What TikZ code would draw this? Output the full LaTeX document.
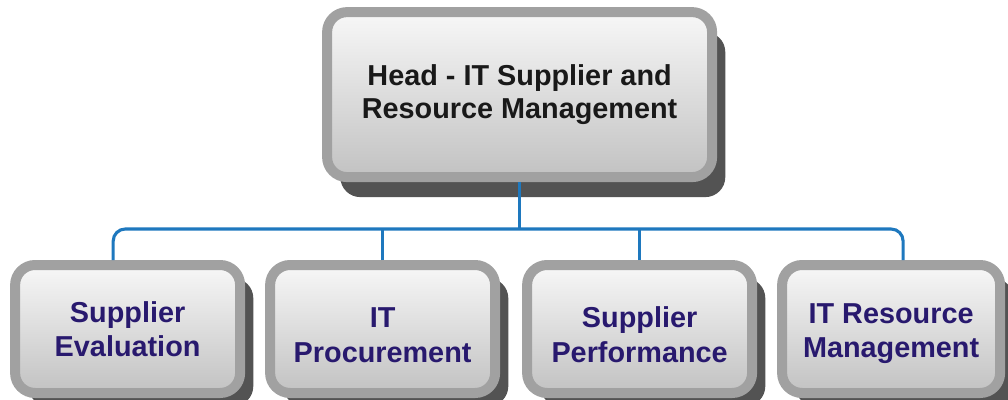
\documentclass[tikz,border=0pt]{standalone}
\usepackage{fontspec}
\setsansfont{Liberation Sans}
\usetikzlibrary{positioning,shadows}
\definecolor{linkblue}{RGB}{30,120,190}
\definecolor{navy}{RGB}{40,25,110}
\tikzset{%
  % Specifications for style of nodes:
  base/.style = {rectangle, rounded corners=0.5cm, draw=black!37,
    line width=0.25cm,
    top color=black!3, bottom color=black!24,
    align=center, font=\sffamily\bfseries\fontsize{20.5}{23.5}\selectfont},
  boss/.style = {base, minimum width=9.625cm, minimum height=4.125cm,
    text=black!90,
    drop shadow={shadow xshift=0.33cm, shadow yshift=-0.5cm,
      fill=black!75, opacity=0.9}},
  unit/.style = {base, minimum width=5.625cm, minimum height=3.2cm,
    text=navy, text height=#1, text depth=5pt,
    font=\sffamily\bfseries\fontsize{20.5}{24.5}\selectfont,
    drop shadow={shadow xshift=0.33cm, shadow yshift=-0.33cm,
      fill=black!75, opacity=0.9}},
  unit/.default = 48pt,
  link/.style = {draw=linkblue, line width=2.2pt, rounded corners=0.3cm},
}

\begin{document}
\begin{tikzpicture}
  \useasboundingbox (0,0) rectangle (25.2,9.975);
  % Specification of nodes (position, etc.)
  \node (Head) [boss] at (12.99,7.61) {Head - IT Supplier and\\ Resource Management};
  \node (SupEval) [unit=44.8pt] at (3.19,1.75) {Supplier\\ Evaluation};
  \node (ITProc) [unit=52pt, right=0.5cm of SupEval] {IT\\ Procurement};
  \node (SupPerf) [unit=52pt, right=0.55cm of ITProc] {Supplier\\ Performance};
  \node (ITRes) [unit=46.2pt, right=0.5cm of SupPerf, minimum width=5.45cm] {IT Resource\\ Management};
  % Connectors
  \coordinate (bus) at (0,4.25);
  \draw[link] ([xshift=-0.36cm]SupEval.north) |- (Head.south |- bus)
    -| ([xshift=0.3cm]ITRes.north);
  \draw[link] (Head.south) -- (Head.south |- bus);
  \draw[link] (ITProc.north) -- (ITProc.north |- bus);
  \draw[link] (SupPerf.north) -- (SupPerf.north |- bus);
\end{tikzpicture}
\end{document}
